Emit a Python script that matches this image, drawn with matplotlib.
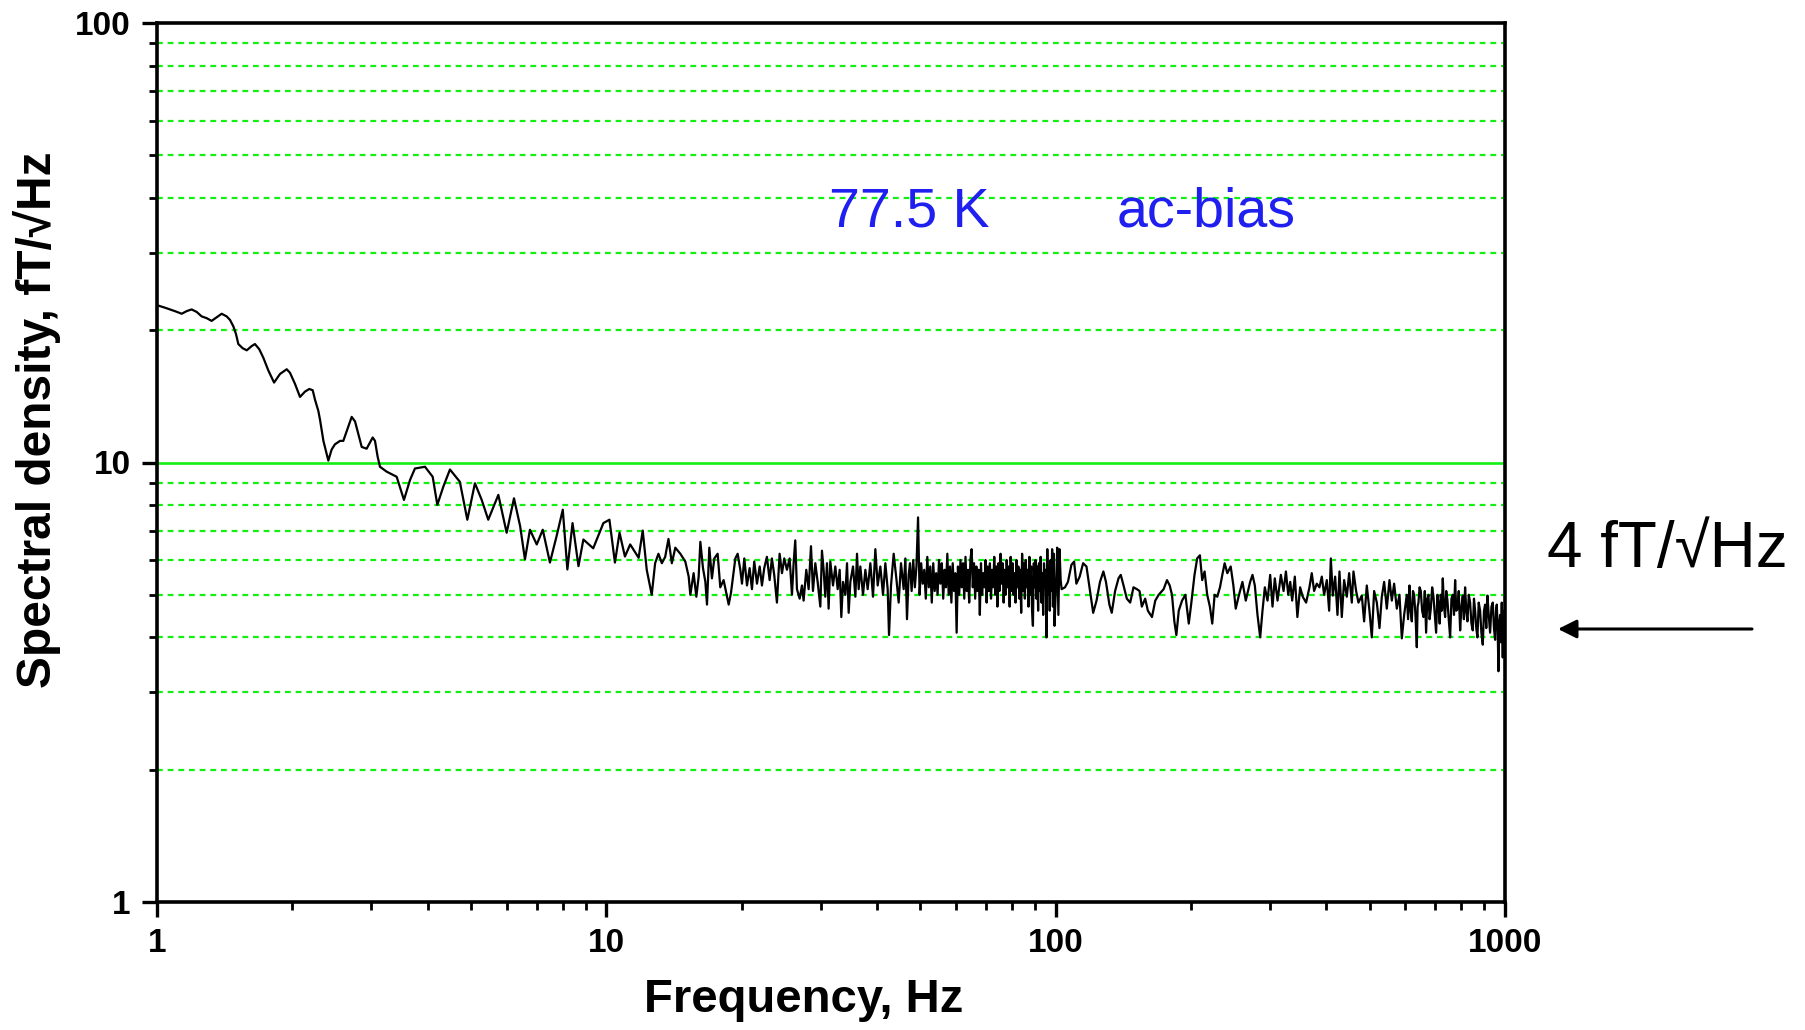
import numpy as np
import matplotlib.pyplot as plt
from matplotlib.ticker import LogLocator, NullFormatter, FixedLocator, FixedFormatter

plt.rcParams['font.family'] = ['Liberation Sans', 'DejaVu Sans']

# noise spectrum, split in pieces by frequency range
# 1 .. 12 Hz
f_low = [1.0, 1.042, 1.069, 1.096, 1.135, 1.164, 1.194, 1.226, 1.257, 1.290, 1.323, 1.358,
         1.393, 1.429, 1.454, 1.479, 1.499, 1.517, 1.551, 1.584, 1.624, 1.652, 1.689, 1.725,
         1.769, 1.822, 1.878, 1.944, 1.977, 2.028, 2.081, 2.135, 2.183, 2.221, 2.247, 2.286,
         2.306, 2.346, 2.406, 2.447, 2.489, 2.555, 2.598, 2.652, 2.712, 2.759, 2.806, 2.855,
         2.928, 3.020, 3.056, 3.098, 3.135, 3.245, 3.415, 3.545, 3.656, 3.75, 3.948, 4.107,
         4.206, 4.337, 4.487, 4.72, 4.905, 5.10, 5.28, 5.46, 5.75, 6.00, 6.23, 6.43, 6.59,
         6.76, 7.00, 7.22, 7.49, 7.75, 8.00, 8.19, 8.41, 8.67, 8.89, 9.35, 9.85, 10.16, 10.45,
         10.7, 11.0, 11.3, 11.8]
psd_low = [22.8, 22.5, 22.3, 22.1, 21.8, 22.1, 22.3, 22.0, 21.5, 21.3, 21.0, 21.4,
           21.8, 21.5, 21.1, 20.4, 19.6, 18.6, 18.2, 18.0, 18.4, 18.6, 18.1, 17.3,
           16.2, 15.2, 15.9, 16.3, 16.0, 15.1, 14.1, 14.5, 14.7, 14.6, 13.9, 13.1,
           12.5, 11.2, 10.1, 10.7, 11.0, 11.2, 11.2, 11.9, 12.7, 12.4, 11.6, 10.85,
           10.75, 11.4, 11.2, 10.3, 9.78, 9.53, 9.28, 8.22, 9.12, 9.69, 9.78, 9.28,
           8.01, 8.81, 9.64, 9.04, 7.41, 8.97, 8.22, 7.41, 8.44, 6.92, 8.29, 7.16, 6.02,
           7.03, 6.51, 7.03, 5.92, 6.8, 7.81, 5.71, 7.28, 5.81, 6.68, 6.38, 7.28, 7.41, 5.92,
           6.92, 6.11, 6.51, 6.07]

# 12 .. 47 Hz
f_mid = [11.89, 12.05, 12.30, 12.62, 12.84, 13.06, 13.29, 13.52, 13.75, 13.99, 14.24, 14.61,
         14.99, 15.25, 15.38, 15.64, 15.86, 16.05, 16.19, 16.41, 16.61, 16.75, 16.95, 17.18,
         17.39, 17.69, 17.93, 18.24, 18.49, 18.72, 18.94, 19.37, 19.60, 19.87, 20.04, 20.28,
         20.56, 20.84, 21.09, 21.34, 21.64, 21.94, 22.20, 22.46, 22.77, 23.09, 23.36, 23.64,
         23.97, 24.30, 24.60, 24.89, 25.23, 25.58, 25.89, 26.11, 26.33, 26.56, 26.93, 27.25,
         27.48, 27.86, 28.20, 28.54, 28.83, 29.18, 29.53, 29.94, 30.19, 30.45, 30.71, 30.98,
         31.24, 31.51, 31.95, 32.33, 32.72, 33.06, 33.34, 33.63, 34.03, 34.33, 34.62, 34.92,
         35.40, 35.83, 36.13, 36.44, 36.75, 37.26, 37.71, 38.16, 38.69, 39.22, 39.69, 40.17,
         40.72, 41.28, 41.78, 42.28, 42.57, 43.01, 43.60, 44.20, 44.73, 45.27, 45.89, 46.29,
         46.68, 47.08]
psd_mid = [6.4, 7.0, 5.7, 5.0, 5.9, 6.2, 5.9, 6.1, 6.7, 5.9, 6.4, 6.2,
           5.95, 5.5, 5.0, 5.6, 4.95, 5.5, 6.6, 5.75, 5.35, 4.75, 6.4, 5.45,
           6.05, 6.2, 5.2, 5.4, 5.05, 4.75, 5.05, 6.05, 6.2, 5.7, 5.3, 6.05,
           5.25, 5.75, 5.15, 5.95, 5.3, 5.8, 5.25, 5.75, 6.1, 5.4, 6.05, 5.55,
           4.8, 6.2, 5.6, 6.05, 5.7, 6.05, 5.0, 5.9, 6.65, 5.15, 4.9, 5.25,
           4.85, 5.7, 5.15, 6.45, 5.1, 5.9, 5.35, 4.7, 6.3, 5.7, 4.95, 5.9,
           4.65, 5.95, 5.25, 5.8, 5.15, 5.7, 4.45, 5.35, 5.0, 5.9, 4.55, 5.35,
           5.8, 4.95, 6.2, 5.15, 5.8, 5.0, 5.7, 5.15, 5.9, 4.95, 6.35, 5.25,
           5.8, 5.0, 5.9, 5.15, 4.05, 5.25, 6.2, 5.45, 4.8, 5.9, 5.15, 6.05,
           4.4, 5.55]

# 47 .. 100 Hz, the dense part with the 50 Hz line
f_dense = [47.4, 47.8, 48.2, 48.6, 49.0, 49.4, 49.8, 50.2, 50.6, 51.0, 51.4, 51.8, 52.2, 52.6,
           53.0, 53.4, 53.8, 54.2, 54.6, 55.0, 55.4, 55.8, 56.2, 56.6, 57.0, 57.4, 57.8, 58.2,
           58.6, 59.0, 59.4, 59.8, 60.2, 60.6, 61.0, 61.4, 61.8, 62.2, 62.6, 63.0, 63.4, 63.8,
           64.2, 64.6, 65.0, 65.4, 65.8, 66.2, 66.6, 67.0, 67.4, 67.8, 68.2, 68.6, 69.0, 69.4,
           69.8, 70.2, 70.6, 71.0, 71.4, 71.8, 72.2, 72.6, 73.0, 73.4, 73.8, 74.2, 74.6, 75.0,
           75.4, 75.8, 76.2, 76.6, 77.0, 77.4, 77.8, 78.2, 78.6, 79.0, 79.4, 79.8, 80.2, 80.6,
           81.0, 81.4, 81.8, 82.2, 82.6, 83.0, 83.4, 83.8, 84.2, 84.6, 85.0, 85.4, 85.8, 86.2,
           86.6, 87.0, 87.4, 87.8, 88.2, 88.6, 89.0, 89.4, 89.8, 90.2, 90.6, 91.0, 91.4, 91.8,
           92.2, 92.6, 93.0, 93.4, 93.8, 94.2, 94.6, 95.0, 95.4, 95.8, 96.2, 96.6, 97.0, 97.4,
           97.8, 98.2, 98.6, 99.0, 99.4]
psd_dense = [5.9, 5.1, 6.0, 5.2, 5.8, 7.5, 5.0, 5.9, 5.3, 5.7, 4.9, 6.1, 5.2, 5.8,
             4.8, 5.9, 5.1, 5.6, 5.0, 6.0, 5.3, 5.9, 4.9, 5.7, 5.2, 6.2, 5.0, 5.8,
             4.8, 5.9, 5.1, 5.6, 4.1, 5.8, 5.0, 6.0, 5.2, 5.9, 4.9, 6.1, 5.1, 5.7,
             4.8, 6.0, 6.35, 5.2, 5.9, 4.9, 5.8, 5.1, 5.7, 4.5, 5.9, 5.0, 5.6, 5.2,
             6.0, 4.8, 5.8, 5.1, 5.9, 4.9, 5.7, 5.2, 6.1, 5.0, 5.8, 4.7, 5.9, 5.1,
             6.2, 5.3, 5.9, 4.8, 5.7, 5.0, 6.0, 5.2, 5.8, 4.7, 6.1, 5.1, 5.9, 5.0,
             5.6, 4.8, 6.0, 5.2, 5.8, 4.9, 5.7, 4.55, 6.2, 5.1, 5.9, 4.9, 6.0, 5.2,
             5.7, 4.7, 6.1, 5.0, 5.8, 4.6, 4.25, 5.9, 5.2, 6.0, 4.9, 5.8, 4.6, 5.9,
             5.1, 6.1, 4.8, 5.6, 4.5, 5.9, 5.2, 5.7, 4.0, 6.35, 5.0, 5.8, 4.6, 6.0,
             5.1, 6.35, 4.7, 6.2, 4.25]

# 100 .. 1000 Hz
f_high = [100.2, 100.8, 101.4, 102.0, 102.6, 103.1, 104.9, 106.5, 108.4, 109.9, 111.2, 113.1,
          115.1, 117.1, 119.1, 121.2, 123.3, 125.5, 127.7, 129.4, 131.7, 133.3, 135.6, 138.0,
          139.6, 141.6, 144.0, 146.5, 149.0, 151.6, 153.7, 155.5, 158.2, 160.4, 163.8, 166.6,
          169.5, 173.9, 176.9, 179.4, 181.5, 183.7, 185.6, 187.9, 191.1, 194.4, 197.8, 200.2,
          203.7, 206.5, 209.4, 211.9, 214.5, 217.4, 220.4, 223.1, 225.8, 228.9, 232.1, 234.9,
          237.7, 241.0, 245.2, 248.6, 251.6, 255.9, 260.4, 264.9, 270.9, 274.2, 277.5, 281.3,
          285.2, 288.6, 292.1, 296.1, 300.2, 303.8, 307.4, 311.7, 317.1, 321.5, 325.4, 329.3,
          332.7, 336.0, 340.6, 345.1, 350.0, 354.7, 360.9, 367.1, 371.5, 376.0, 381.2, 386.4,
          391.1, 395.8, 401.3, 406.1, 409.6, 413.8, 418.8, 423.8, 428.2, 433.3, 438.5, 444.6,
          449.9, 456.1, 460.0, 466.3, 471.9, 480.1, 485.8, 492.5, 499.3, 505.3, 511.4, 518.5,
          525.6, 531.9, 538.3, 545.7, 553.2, 559.9, 566.6, 574.4, 582.3, 589.3, 596.4, 604.6,
          608.5, 612.9, 616.5, 620.3, 624.0, 627.7, 632.0, 636.4, 639.0, 641.8, 645.5, 649.5,
          654.0, 658.5, 663.0, 667.5, 671.5, 675.6, 679.5, 683.7, 688.5, 693.1, 698.0, 702.6,
          707.0, 711.1, 715.5, 719.6, 723.0, 727.0, 731.5, 735.8, 740.0, 744.6, 749.5, 754.9,
          760.0, 765.3, 770.0, 774.5, 779.0, 783.8, 789.0, 794.6, 800.0, 805.5, 810.0, 815.1,
          820.0, 825.0, 830.5, 836.3, 842.0, 847.8, 853.0, 858.0, 863.0, 868.3, 874.0, 880.3,
          886.0, 892.4, 898.0, 903.1, 908.5, 914.0, 920.0, 926.5, 933.0, 939.3, 945.0, 950.6,
          955.0, 958.7, 963.0, 967.0, 971.0, 975.2, 979.0, 983.6, 986.0, 988.6, 992.0, 995.4,
          1000.0]
psd_high = [5.3, 6.4, 4.5, 6.35, 5.4, 5.15, 5.2, 5.35, 5.85, 5.95, 5.3, 5.5,
            5.9, 5.8, 5.15, 4.55, 4.85, 5.35, 5.65, 5.35, 4.75, 4.55, 5.1, 5.45,
            5.55, 5.25, 4.9, 4.8, 5.2, 5.15, 5.1, 4.7, 4.9, 4.6, 4.45, 4.85,
            5.0, 5.15, 5.4, 5.25, 5.0, 4.35, 4.05, 4.6, 4.85, 5.0, 4.3, 4.75,
            5.55, 6.05, 6.15, 5.4, 5.65, 5.0, 4.7, 4.3, 5.0, 4.95, 5.2, 5.55,
            5.9, 5.6, 5.8, 5.25, 4.65, 5.0, 5.35, 4.85, 5.35, 5.55, 5.25, 4.5,
            4.0, 4.6, 5.2, 4.85, 5.55, 4.7, 5.45, 4.85, 5.55, 5.1, 5.65, 5.0,
            5.35, 4.85, 5.5, 4.45, 5.2, 4.95, 4.8, 5.2, 5.6, 5.1, 5.3, 5.2,
            5.5, 5.0, 5.4, 4.6, 6.05, 4.98, 5.5, 4.5, 5.65, 4.45, 5.4, 4.95,
            5.6, 4.8, 5.65, 5.1, 4.8, 4.98, 4.35, 5.25, 4.6, 4.0, 5.1, 4.8,
            4.2, 4.95, 5.35, 4.65, 5.4, 4.85, 5.3, 4.65, 5.0, 3.98, 4.5, 5.0,
            4.4, 5.25, 4.6, 4.35, 5.1, 5.0, 4.5, 3.8, 4.7, 4.8, 5.2, 5.1,
            4.6, 4.45, 5.1, 4.1, 4.9, 5.0, 4.4, 4.65, 5.2, 4.95, 4.5, 4.1,
            5.0, 4.8, 4.3, 5.0, 4.6, 5.45, 4.7, 4.45, 5.1, 4.85, 4.4, 4.0,
            4.9, 5.0, 4.5, 5.4, 4.6, 4.65, 5.1, 4.15, 4.7, 4.98, 4.4, 5.2,
            4.6, 4.35, 5.0, 4.8, 4.3, 4.15, 4.9, 4.6, 4.2, 4.0, 4.8, 4.6,
            4.1, 3.85, 4.6, 4.75, 4.2, 4.98, 4.5, 4.1, 4.7, 4.8, 4.2, 3.95,
            4.6, 4.75, 4.2, 3.35, 4.3, 4.5, 3.9, 4.8, 4.2, 3.6, 4.6, 4.15,
            4.3]

freq = f_low + f_mid + f_dense + f_high
psd = psd_low + psd_mid + psd_dense + psd_high

x_ticks = [1, 10, 100, 1000]
y_ticks = [1, 10, 100]
grid_minor = [2, 3, 4, 5, 6, 7, 8, 9, 20, 30, 40, 50, 60, 70, 80, 90]
grid_major = [10]

fig = plt.figure(figsize=(18.06, 10.30), dpi=100)
ax = fig.add_axes([157/1806, 1 - 902/1030, (1505-157)/1806, (902-23)/1030])

green = '#12f012'
for g in grid_minor:
    ax.axhline(g, color=green, lw=1.6, dashes=(2.6, 2.2), zorder=1)
for g in grid_major:
    ax.axhline(g, color=green, lw=1.9, zorder=1)

ax.plot(freq, psd, color='black', lw=1.6, zorder=3)

ax.set_xscale('log')
ax.set_yscale('log')
ax.set_xlim(1, 1000)
ax.set_ylim(1, 100)

ax.xaxis.set_major_locator(FixedLocator(x_ticks))
ax.xaxis.set_major_formatter(FixedFormatter([str(t) for t in x_ticks]))
ax.yaxis.set_major_locator(FixedLocator(y_ticks))
ax.yaxis.set_major_formatter(FixedFormatter([str(t) for t in y_ticks]))
ax.xaxis.set_minor_locator(LogLocator(base=10, subs=np.arange(2, 10)))
ax.yaxis.set_minor_locator(LogLocator(base=10, subs=np.arange(2, 10)))
ax.xaxis.set_minor_formatter(NullFormatter())
ax.yaxis.set_minor_formatter(NullFormatter())

ax.tick_params(which='major', direction='out', length=11, width=2.4, labelsize=24, pad=8)
ax.tick_params(which='minor', direction='out', length=5.5, width=2.0)
ax.tick_params(top=False, right=False, which='both')
for lab in ax.get_xticklabels() + ax.get_yticklabels():
    lab.set_fontweight('bold')
for s in ax.spines.values():
    s.set_linewidth(2.6)
    s.set_zorder(5)

fig.text(804/1806, 1 - 1000/1030, 'Frequency, Hz', fontsize=34, fontweight='bold',
         ha='center', va='center')
fig.text(37/1806, 1 - 420/1030, 'Spectral density, fT/√Hz', fontsize=34.5, fontweight='bold',
         ha='center', va='center', rotation=90)

ax.text(0.4985, 0.768, '77.5 K', transform=ax.transAxes, fontsize=40, color='#1f1ff0',
        ha='left', va='baseline')
ax.text(0.712, 0.768, 'ac-bias', transform=ax.transAxes, fontsize=40, color='#1f1ff0',
        ha='left', va='baseline')

fig.text(1547/1806, 1 - 567/1030, '4 fT/√Hz', fontsize=46, ha='left', va='baseline')
ax.annotate('', xy=(1558/1806, 1 - 629/1030), xytext=(1752/1806, 1 - 629/1030),
            xycoords='figure fraction', textcoords='figure fraction',
            arrowprops=dict(arrowstyle='-|>', lw=2.2, color='black', mutation_scale=28,
                            shrinkA=0, shrinkB=0))

plt.savefig('out.png', dpi=100)
